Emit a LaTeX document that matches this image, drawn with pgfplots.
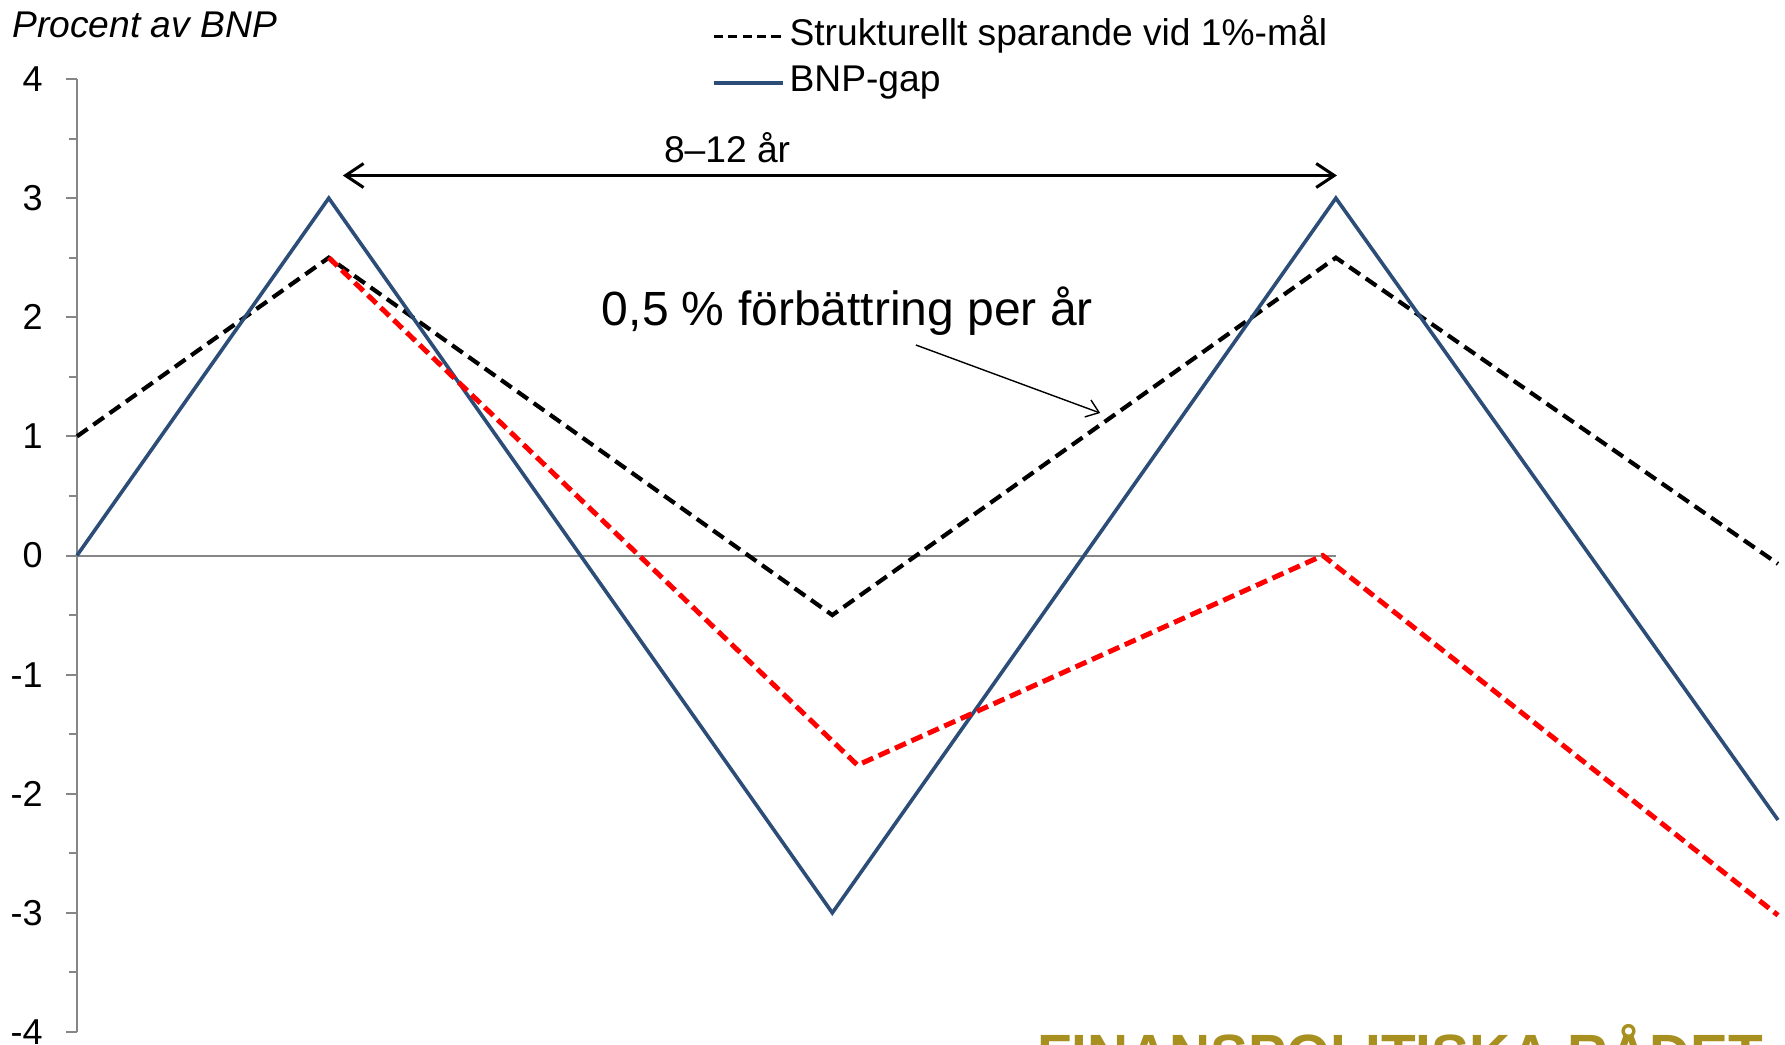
\documentclass[border=0pt]{standalone}
\usepackage{pgfplots}
\pgfplotsset{compat=1.18}
\usepackage{fontspec}
\setmainfont{Liberation Sans}
\usetikzlibrary{arrows.meta}
\definecolor{gapblue}{RGB}{44,77,120}
\definecolor{fpgold}{RGB}{168,144,32}
\definecolor{axgray}{RGB}{134,134,134}

\begin{document}
\begin{tikzpicture}
\useasboundingbox (-38.5pt,-6.5pt) rectangle (854pt,516pt);
\clip (-38.5pt,-6.5pt) rectangle (854pt,516pt);
\begin{axis}[
    at={(0,0)}, anchor=south west,
    scale only axis, width=850.5pt, height=476.5pt,
    xmin=0, xmax=16.89, ymin=-4, ymax=4,
    axis x line=none, axis y line=left,
    y axis line style={-, draw=axgray, line width=1pt},
    ytick={-4,...,4}, minor y tick num=1,
    tick align=outside, major tick length=5.5pt, minor tick length=4pt,
    y tick style={axgray, line width=1pt},
    tick label style={font=\fontsize{18}{21}\selectfont},
    yticklabel style={inner sep=0pt, xshift=-11.5pt},
    /pgf/number format/assume math mode=true,
    clip=false,
    legend cell align=left,
    legend style={draw=none, fill=none, at={(0.3733,1.063)}, anchor=north west,
        inner sep=0pt, outer sep=0pt, row sep=5pt,
        font=\fontsize{18.6}{22}\selectfont,
        nodes={inner sep=0pt, text height=13.5pt, text depth=4.5pt},
        /tikz/every odd column/.append style={column sep=2.5pt}},
    legend image code/.code={\draw[#1] (0pt,0pt) -- (34.5pt,0pt);},
]
% nollinje
\addplot[axgray, line width=1pt, forget plot] coordinates {(0,0) (12.5,0)};

\addplot[black, line width=2.1pt, dash pattern=on 6.5pt off 3.5pt,
    legend image post style={line width=1.5pt, dash pattern=on 4.6pt off 2.6pt}] coordinates {
    (0,1) (2.5,2.5) (7.5,-0.5) (12.5,2.5) (16.89,-0.07)
};
\addlegendentry{Strukturellt sparande vid 1\%-mål}

\addplot[gapblue, line width=1.8pt] coordinates {
    (0,0) (2.5,3) (7.5,-3) (12.5,3) (16.89,-2.22)
};
\addlegendentry{BNP-gap}

\addplot[red, line width=2.5pt, dash pattern=on 6pt off 3pt, forget plot] coordinates {
    (2.5,2.5) (7.75,-1.76) (12.37,0) (16.89,-3.02)
};

\node[anchor=base west, inner sep=0pt, font=\itshape\fontsize{18.6}{22}\selectfont] at (axis cs:-0.645,4.345) {Procent av BNP};
\draw[line width=1.5pt, {Straight Barb[length=9pt,width=12pt]}-{Straight Barb[length=9pt,width=12pt]}] (axis cs:2.64,3.19) -- (axis cs:12.51,3.19);
\node[anchor=base, inner sep=0pt, font=\fontsize{18.6}{22}\selectfont] at (axis cs:6.455,3.30) {8–12 år};
\node[anchor=base, inner sep=0pt, font=\fontsize{24}{28}\selectfont] at (axis cs:7.65,1.935) {0,5 \% förbättring per år};
\draw[line width=0.7pt, -{Straight Barb[length=6pt,width=9pt]}] (axis cs:8.33,1.767) -- (axis cs:10.16,1.196);
\node[anchor=base west, inner sep=0pt, text=fpgold, font=\bfseries\fontsize{28.4}{32}\selectfont] at (axis cs:9.53,-4.353) {FINANSPOLITISKA RÅDET};
\end{axis}
\end{tikzpicture}
\end{document}
